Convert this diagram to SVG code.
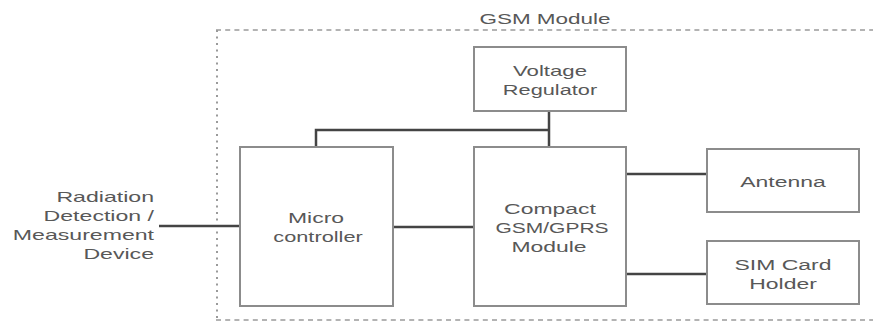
<svg xmlns="http://www.w3.org/2000/svg" width="873" height="322" viewBox="0 0 873 322">
<style>
.box{fill:#fff;stroke:#8c8c8c;stroke-width:2}
.lbl{font-family:"Liberation Sans",Arial,sans-serif;font-size:15px;fill:#585858;text-anchor:middle}
.ext{font-family:"Liberation Sans",Arial,sans-serif;font-size:15px;fill:#585858;text-anchor:end}
.conn{stroke:#444;stroke-width:2.5;fill:none}
.dh{stroke:#9a9a9a;stroke-width:1.5;stroke-dasharray:5 4.2;fill:none}
.dv{stroke:#9a9a9a;stroke-width:2;stroke-dasharray:2 4.5;fill:none}
</style>
<rect width="873" height="322" fill="#fff"/>
<g id="gsm-module-group">
<line class="dh" x1="216" y1="30" x2="873" y2="30"/>
<line class="dh" x1="216" y1="320" x2="873" y2="320"/>
<line class="dv" x1="217" y1="30" x2="217" y2="320"/>
<text class="lbl" transform="translate(545,24) scale(1.5,1)">GSM Module</text>
</g>
<g id="connectors">
<polyline class="conn" points="549,111 549,147"/>
<polyline class="conn" points="316,147 316,130 549,130"/>
<line class="conn" x1="159" y1="226" x2="240" y2="226"/>
<line class="conn" x1="393" y1="227" x2="474" y2="227"/>
<line class="conn" x1="626" y1="174" x2="707" y2="174"/>
<line class="conn" x1="626" y1="274" x2="707" y2="274"/>
</g>
<g id="radiation-device">
<text class="ext" transform="translate(154,202) scale(1.54,1)">Radiation</text>
<text class="ext" transform="translate(154,221) scale(1.54,1)">Detection /</text>
<text class="ext" transform="translate(154,240) scale(1.54,1)">Measurement</text>
<text class="ext" transform="translate(154,259) scale(1.54,1)">Device</text>
</g>
<g id="voltage-regulator">
<rect class="box" x="474" y="47" width="152" height="64"/>
<text class="lbl" transform="translate(550,76) scale(1.48,1)">Voltage</text>
<text class="lbl" transform="translate(550,95) scale(1.45,1)">Regulator</text>
</g>
<g id="microcontroller">
<rect class="box" x="240" y="147" width="153" height="159"/>
<text class="lbl" transform="translate(316,223) scale(1.53,1)">Micro</text>
<text class="lbl" transform="translate(318,242) scale(1.45,1)">controller</text>
</g>
<g id="gsm-gprs-module">
<rect class="box" x="474" y="147" width="152" height="159"/>
<text class="lbl" transform="translate(550,214) scale(1.53,1)">Compact</text>
<text class="lbl" transform="translate(552,233) scale(1.4,1)">GSM/GPRS</text>
<text class="lbl" transform="translate(549,252) scale(1.53,1)">Module</text>
</g>
<g id="antenna">
<rect class="box" x="707" y="149" width="152" height="63"/>
<text class="lbl" transform="translate(783,187) scale(1.53,1)">Antenna</text>
</g>
<g id="sim-card-holder">
<rect class="box" x="707" y="241" width="152" height="63"/>
<text class="lbl" transform="translate(783,270) scale(1.53,1)">SIM Card</text>
<text class="lbl" transform="translate(783,288.5) scale(1.53,1)">Holder</text>
</g>
</svg>
